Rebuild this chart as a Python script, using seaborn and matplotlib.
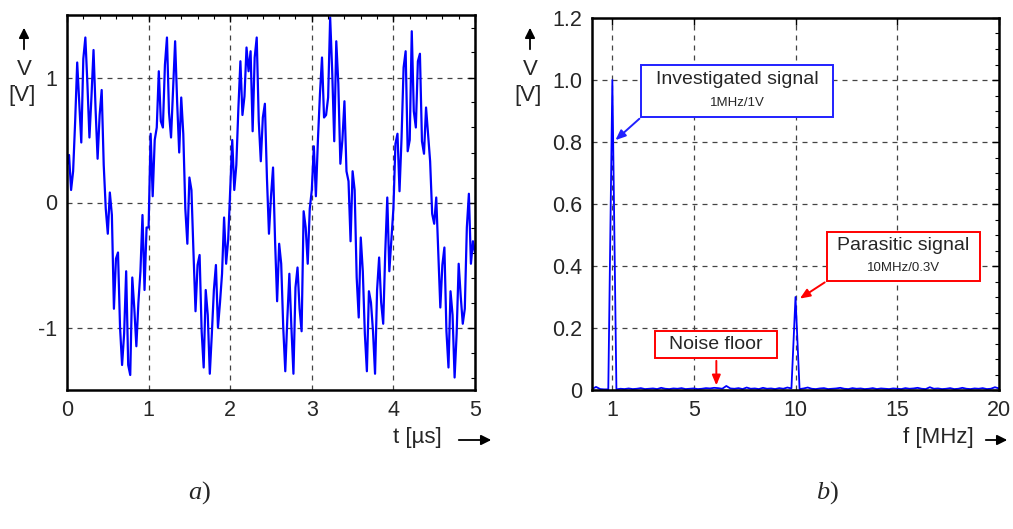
import numpy as np
import matplotlib
matplotlib.use("Agg")
import matplotlib.pyplot as plt
import seaborn as sns
from matplotlib.patches import Rectangle, FancyArrowPatch
from matplotlib.ticker import MultipleLocator

sns.set_style("white")
plt.rcParams["font.family"] = ["Liberation Sans", "DejaVu Sans"]
plt.rcParams["axes.unicode_minus"] = False

# ---- a) time signal, one value every 0.025 us ----
cycle_1 = [0.30, 0.38, 0.10, 0.25, 0.65, 1.12, 0.80, 0.48, 1.15, 1.32,
           0.95, 0.52, 0.85, 1.22, 0.75, 0.35, 0.70, 0.90, 0.30, -0.05,
           -0.25, 0.08, -0.10, -0.85, -0.45, -0.40, -1.00, -1.30, -1.05, -0.55,
           -1.30, -1.38, -0.60, -0.85, -1.15, -0.80, -0.55, -0.10, -0.70, -0.20]
cycle_2 = [-0.20, 0.55, 0.05, 0.50, 0.60, 1.05, 0.65, 0.60, 1.10, 1.32,
           0.72, 0.52, 0.90, 1.29, 0.80, 0.40, 0.84, 0.55, -0.05, -0.33,
           0.20, 0.10, -0.40, -0.87, -0.50, -0.42, -1.03, -1.32, -0.70, -0.90,
           -1.37, -1.05, -0.70, -0.50, -1.00, -0.80, -0.57, -0.12, -0.49, -0.30]
cycle_3 = [0.10, 0.50, 0.10, 0.30, 0.75, 1.13, 0.70, 0.85, 1.24, 1.05,
           1.21, 0.57, 1.16, 1.32, 0.65, 0.33, 0.68, 0.79, 0.20, -0.25,
           0.05, 0.28, -0.31, -0.79, -0.33, -0.49, -1.00, -1.35, -0.93, -0.57,
           -1.00, -1.37, -0.68, -0.52, -0.85, -1.03, -0.07, -0.20, -0.49, -0.05]
cycle_4 = [0.10, 0.45, 0.05, 0.50, 0.87, 1.16, 0.68, 0.70, 0.84, 1.48,
           1.05, 0.49, 1.29, 0.95, 0.31, 0.50, 0.81, 0.25, 0.17, -0.31,
           0.25, 0.10, -0.60, -0.92, -0.28, -0.55, -1.05, -1.35, -0.71, -0.80,
           -1.03, -1.37, -0.70, -0.44, -0.80, -0.97, -0.40, 0.04, -0.55, -0.30]
cycle_5 = [-0.05, 0.47, 0.55, 0.09, 0.52, 1.08, 1.21, 0.41, 0.50, 1.37,
           0.73, 0.60, 1.13, 1.19, 0.49, 0.39, 0.76, 0.55, 0.33, -0.09,
           -0.17, 0.04, -0.39, -0.84, -0.50, -0.36, -1.03, -1.32, -0.71, -0.90,
           -1.40, -1.05, -0.49, -0.75, -0.97, -0.85, -0.20, 0.07, -0.49, -0.31,
           -0.40]
volts = cycle_1 + cycle_2 + cycle_3 + cycle_4 + cycle_5
t_us = np.linspace(0, 5, len(volts))

# ---- b) spectrum, one value every 0.2 MHz ----
spectrum = [0.003, 0.010, 0.003, 0.002, 0.002, 1.000, 0.002, 0.004, 0.003, 0.005,
            0.003, 0.004, 0.006, 0.003, 0.004, 0.005, 0.003, 0.007, 0.004, 0.003,
            0.005, 0.004, 0.006, 0.003, 0.004, 0.005, 0.003, 0.004, 0.006, 0.005,
            0.007, 0.006, 0.004, 0.013, 0.005, 0.004, 0.006, 0.003, 0.008, 0.004,
            0.005, 0.003, 0.007, 0.004, 0.005, 0.003, 0.006, 0.004, 0.008, 0.005,
            0.300, 0.003, 0.005, 0.008, 0.004, 0.003, 0.005, 0.006, 0.003, 0.004,
            0.005, 0.007, 0.004, 0.003, 0.006, 0.004, 0.005, 0.003, 0.004, 0.006,
            0.003, 0.005, 0.004, 0.003, 0.005, 0.004, 0.003, 0.006, 0.004, 0.005,
            0.007, 0.004, 0.003, 0.009, 0.004, 0.005, 0.003, 0.004, 0.006, 0.003,
            0.004, 0.007, 0.004, 0.003, 0.005, 0.004, 0.006, 0.003, 0.004, 0.009,
            0.005]
f_mhz = np.linspace(0, 20, len(spectrum))

t_ticks = [0, 1, 2, 3, 4, 5]
v_ticks = [-1, 0, 1]
f_ticks = [1, 5, 10, 15, 20]
s_ticks = [0, 0.2, 0.4, 0.6, 0.8, 1.0, 1.2]
s_labels = ["0", "0.2", "0.4", "0.6", "0.8", "1.0", "1.2"]

W, H = 1013, 529
fig = plt.figure(figsize=(W / 100, H / 100), dpi=100)
ax1 = fig.add_axes([67 / W, 1 - 390 / H, 408 / W, 375 / H])
ax2 = fig.add_axes([592 / W, 1 - 390 / H, 407 / W, 372 / H])

grid_kw = dict(color="#444444", linestyle=(0, (4, 4)), linewidth=0.9)

sns.lineplot(x=t_us, y=volts, ax=ax1, color="#0000ff", linewidth=1.6)
ax1.set_xlim(0, 5)
ax1.set_ylim(-1.5, 1.5)
ax1.set_xticks(t_ticks)
ax1.set_yticks(v_ticks)
ax1.xaxis.set_minor_locator(MultipleLocator(0.2))
ax1.yaxis.set_minor_locator(MultipleLocator(0.2))
ax1.grid(True, which="major", **grid_kw)

sns.lineplot(x=f_mhz, y=spectrum, ax=ax2, color="#0000ff", linewidth=1.3)
ax2.set_xlim(0, 20)
ax2.set_ylim(0, 1.2)
ax2.set_xticks(f_ticks)
ax2.set_yticks(s_ticks)
ax2.set_yticklabels(s_labels)
ax2.yaxis.set_minor_locator(MultipleLocator(0.05))
ax2.grid(True, which="major", **grid_kw)

for ax in (ax1, ax2):
    ax.set_xlabel("")
    ax.set_ylabel("")
    for sp in ax.spines.values():
        sp.set_color("black")
        sp.set_linewidth(1.8)
    ax.tick_params(which="both", direction="in", top=True, right=True,
                   labelsize=15.5, pad=7, color="black")
    ax.tick_params(which="major", length=5, width=1)
    ax.tick_params(which="minor", length=3, width=0.8)


def ypx(p):
    return 1 - p / H


def fig_arrow(x0, y0, x1, y1):
    fig.add_artist(FancyArrowPatch(
        (x0 / W, ypx(y0)), (x1 / W, ypx(y1)), transform=fig.transFigure,
        arrowstyle="-|>,head_length=6,head_width=3", color="black", lw=1.3))


# y captions: arrow, V, [V]
for x0 in (24, 530):
    fig_arrow(x0, 52, x0, 25)
    fig.text(x0 / W, ypx(70), "V", ha="center", va="center", fontsize=16)
    fig.text((x0 - 2) / W, ypx(96), "[V]", ha="center", va="center", fontsize=16)

# x captions
fig.text(393 / W, ypx(438), "t [µs]", ha="left", va="center", fontsize=16)
fig_arrow(456, 440, 494, 440)
fig.text(903 / W, ypx(438), "f [MHz]", ha="left", va="center", fontsize=16)
fig_arrow(983, 440, 1010, 440)

# panel letters
for xc, letter in ((201, "a"), (829, "b")):
    fig.text(xc / W, ypx(493), letter, ha="right", va="center", fontsize=19,
             family="Liberation Serif", style="italic")
    fig.text(xc / W, ypx(493), ")", ha="left", va="center", fontsize=19,
             family="Liberation Serif")


# annotation boxes on the spectrum
def label_box(ax, x0, x1, y0, y1, color, title, sub, ty, sy):
    ax.add_patch(Rectangle((x0, y0), x1 - x0, y1 - y0, facecolor="white",
                           edgecolor=color, linewidth=1.4, zorder=5))
    xc = (x0 + x1) / 2
    ax.text(xc, ty, title, ha="center", va="center", fontsize=14, zorder=6)
    if sub:
        ax.text(xc, sy, sub, ha="center", va="center", fontsize=9.5, zorder=6)


arrow_kw = dict(arrowstyle="-|>,head_length=0.6,head_width=0.25", lw=1.4)

label_box(ax2, 2.43, 11.85, 0.881, 1.048, "#2020ff",
          "Investigated signal", "1MHz/1V", 1.003, 0.926)
ax2.annotate("", xy=(1.05, 0.80), xytext=(2.43, 0.881),
             arrowprops=dict(color="#2020ff", **arrow_kw), zorder=6)

label_box(ax2, 11.55, 19.07, 0.352, 0.51, "red",
          "Parasitic signal", "10MHz/0.3V", 0.465, 0.394)
ax2.annotate("", xy=(10.1, 0.29), xytext=(11.55, 0.352),
             arrowprops=dict(color="red", **arrow_kw), zorder=6)

label_box(ax2, 3.11, 9.10, 0.103, 0.19, "red", "Noise floor", None, 0.147, 0)
ax2.annotate("", xy=(6.11, 0.006), xytext=(6.11, 0.103),
             arrowprops=dict(color="red", **arrow_kw), zorder=6)

fig.savefig("out.png", dpi=100)
